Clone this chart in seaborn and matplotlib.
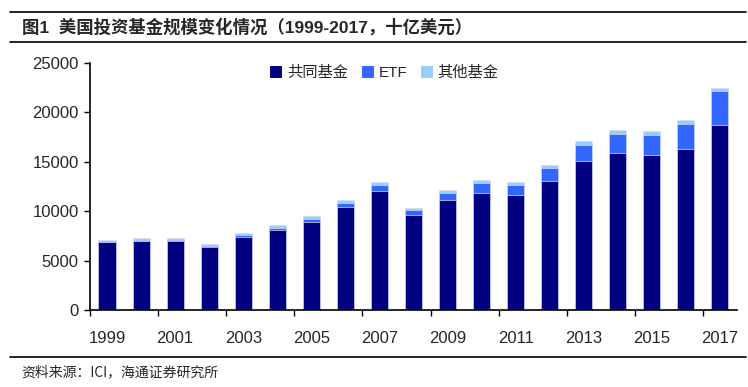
import matplotlib
matplotlib.use("Agg")
import matplotlib.pyplot as plt
from matplotlib.lines import Line2D
from matplotlib.patches import Patch
import numpy as np
import pandas as pd
import seaborn as sns

# data, billions of USD
years = [str(y) for y in range(1999, 2018)]
mutual_funds = [6846, 6965, 6975, 6383, 7402, 8095, 8891, 10398, 12001, 9604,
                11113, 11833, 11633, 13056, 15049, 15875, 15650, 16344, 18746]
etf = [34, 66, 83, 102, 151, 228, 301, 423, 608, 531,
       777, 992, 1048, 1337, 1675, 1975, 2101, 2524, 3401]
other_funds = [238, 217, 190, 195, 250, 290, 317, 347, 366, 213,
               261, 289, 303, 336, 366, 390, 355, 347, 360]
series_names = ["共同基金", "ETF", "其他基金"]
colors = ["#000080", "#3366FF", "#99CCFF"]
year_labels = years[::2]

df = pd.DataFrame({"year": years, "mf": mutual_funds, "etf": etf, "other": other_funds})
df["mf_etf"] = df["mf"] + df["etf"]
df["total"] = df["mf_etf"] + df["other"]

sns.set_style("white")
plt.rcParams["font.family"] = ["Liberation Sans Narrow", "Liberation Sans", "Noto Sans CJK SC"]

fig = plt.figure(figsize=(7.48, 3.87), dpi=100)
ax = fig.add_axes([0.1203, 0.199, 0.865, 0.638])

edge = "#D4DCF4"
for col, c in zip(["total", "mf_etf", "mf"], colors[::-1]):
    sns.barplot(data=df, x="year", y=col, color=c, width=0.5, saturation=1,
                edgecolor=edge, linewidth=0.5, ax=ax)

ax.set_xlim(-0.5, 18.5)
ax.set_ylim(0, 25000)
ax.set_yticks(range(0, 25001, 5000))
ax.set_xlabel("")
ax.set_ylabel("")

# tick marks between pairs of years, labels under every other year
ax.set_xticks(np.arange(-0.5, 18.6, 2))
ax.set_xticklabels([])
ax.set_xticks(range(0, 19, 2), minor=True)
ax.set_xticklabels(year_labels, minor=True)
ax.tick_params(axis="x", which="major", direction="out", length=4, width=1, color="black", bottom=True)
ax.tick_params(axis="x", which="minor", length=0, pad=15, labelsize=12)
ax.tick_params(axis="y", direction="out", length=4, width=1, color="black", left=True, labelsize=12, pad=4)

sns.despine(ax=ax)
for s in ["left", "bottom"]:
    ax.spines[s].set_color("black")
    ax.spines[s].set_linewidth(1.2)

handles = [Patch(facecolor=c, edgecolor="none") for c in colors]
leg = ax.legend(handles, series_names, loc="upper center", bbox_to_anchor=(0.455, 1.045),
                ncol=3, frameon=False, handlelength=0.8, handleheight=0.8,
                handletextpad=0.3, columnspacing=0.9,
                prop={"family": ["Liberation Sans", "Noto Sans CJK SC"], "size": 11})

# header / footer
fig.add_artist(Line2D([0.013, 0.997], [0.969, 0.969], color="black", lw=1.2))
fig.add_artist(Line2D([0.013, 0.997], [0.891, 0.891], color="black", lw=1.2))
fig.add_artist(Line2D([0.013, 0.997], [0.077, 0.077], color="black", lw=1.2))
fig.text(0.029, 0.930, "图1  美国投资基金规模变化情况（1999-2017，十亿美元）", fontsize=12.5,
         fontweight="bold", va="center", ha="left",
         family=["Liberation Sans", "Noto Sans CJK SC"])
fig.text(0.029, 0.039, "资料来源：ICI，海通证券研究所", fontsize=10, va="center", ha="left",
         family=["Liberation Sans Narrow", "Noto Sans CJK SC"])

fig.savefig("out.png", dpi=100)
